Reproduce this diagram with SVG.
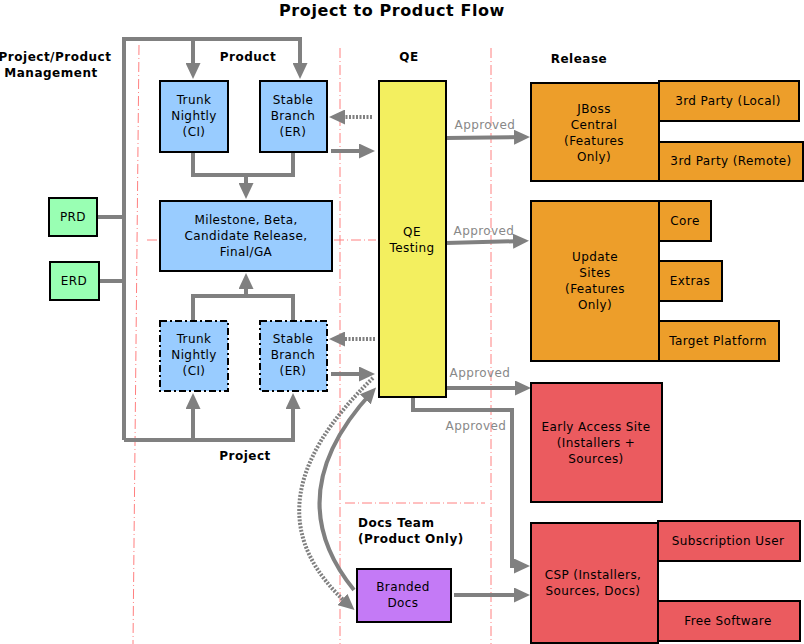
<svg xmlns="http://www.w3.org/2000/svg" width="804" height="644" viewBox="0 0 804 644">
<style>
text{font-family:"DejaVu Sans","Liberation Sans",sans-serif;font-size:12px;fill:#000;text-anchor:middle;letter-spacing:0.4px}
.h{font-weight:bold;font-size:12px;letter-spacing:0.5px}
.t{font-weight:bold;font-size:16px;letter-spacing:0.6px}
.ap{fill:#888888}
.lane{stroke:#ff8080;stroke-width:1;fill:none;stroke-dasharray:10,3,1,3}
.box{stroke:#000;stroke-width:2}
.blue{fill:#99ccff}
.green{fill:#99ffb3}
.yellow{fill:#f3ef5f}
.orange{fill:#ed9e2a}
.red{fill:#eb5b5f}
.purple{fill:#c47af6}
.dash{stroke-dasharray:7,3,2,3}
.c{stroke:#808080;stroke-width:4;fill:none}
.a{marker-end:url(#ah)}
.dot{stroke-dasharray:2,1.5}
</style>
<defs>
<marker id="ah" markerUnits="userSpaceOnUse" markerWidth="16" markerHeight="15" refX="10" refY="7.5" orient="auto">
<path d="M0,0 L16,7.5 L0,15 z" fill="#808080"/>
</marker>
</defs>
<rect width="804" height="644" fill="#fff"/>
<g id="lanes">
<line class="lane" x1="139" y1="45" x2="133" y2="644"/>
<line class="lane" x1="340" y1="48" x2="340" y2="644"/>
<line class="lane" x1="491" y1="48" x2="491" y2="644"/>
<line class="lane" x1="147" y1="240" x2="376" y2="240"/>
<line class="lane" x1="345" y1="503" x2="485" y2="503"/>
</g>
<g id="labels">
<text class="t" x="392" y="16">Project to Product Flow</text>
<text class="h" x="55" y="61">Project/Product</text>
<text class="h" x="51" y="77">Management</text>
<text class="h" x="248" y="61">Product</text>
<text class="h" x="409" y="61">QE</text>
<text class="h" x="579" y="63">Release</text>
<text class="h" x="245" y="460">Project</text>
<text class="h" x="358" y="527" style="text-anchor:start">Docs Team</text>
<text class="h" x="358" y="543" style="text-anchor:start">(Product Only)</text>
<text class="ap" x="485" y="129">Approved</text>
<text class="ap" x="484" y="235">Approved</text>
<text class="ap" x="480" y="377">Approved</text>
<text class="ap" x="476" y="430">Approved</text>
</g>
<g id="connectors">
<path class="c" d="M97,217 H124 M99,281 H124"/>
<path class="c a" d="M124,440 V39 H300 V73"/>
<path class="c a" d="M193,39 V73"/>
<path class="c a" d="M124,440 H293 V399"/>
<path class="c a" d="M193,440 V399"/>
<path class="c" d="M193,152 V175 H293 V152"/>
<path class="c a" d="M246,175 V193"/>
<path class="c" d="M193,321 V296 H293 V321"/>
<path class="c a" d="M246,296 V279"/>
<path class="c a" d="M331,151 H369"/>
<path class="c a dot" d="M372,117 H335"/>
<path class="c a dot" d="M375,339 H335"/>
<path class="c a" d="M331,374 H369"/>
<path class="c a" d="M446,138 L524,137"/>
<path class="c a" d="M446,243 L523,241"/>
<path class="c a" d="M446,388 H525"/>
<path class="c a" d="M413,397 V410 H512 V566 H524"/>
<path class="c a" d="M454,595 H524"/>
<path class="c a" d="M354,590 Q277,495 372,392"/>
<path class="c a dot" d="M373,378 Q238,508 350,606"/>
</g>
<g id="prd"><rect class="box green" x="49" y="198" width="48" height="38"/><text x="73" y="221">PRD</text></g>
<g id="erd"><rect class="box green" x="50" y="262" width="49" height="38"/><text x="74" y="285">ERD</text></g>
<g id="trunk-product"><rect class="box blue" x="160" y="81" width="68" height="71"/><text x="194" y="104">Trunk</text><text x="194" y="120">Nightly</text><text x="194" y="136">(CI)</text></g>
<g id="stable-product"><rect class="box blue" x="260" y="81" width="67" height="71"/><text x="293" y="104">Stable</text><text x="293" y="120">Branch</text><text x="293" y="136">(ER)</text></g>
<g id="milestone"><rect class="box blue" x="160" y="201" width="172" height="70"/><text x="246" y="224">Milestone, Beta,</text><text x="246" y="240">Candidate Release,</text><text x="246" y="256">Final/GA</text></g>
<g id="trunk-project"><rect class="box blue dash" x="160" y="321" width="68" height="70"/><text x="194" y="343">Trunk</text><text x="194" y="359">Nightly</text><text x="194" y="375">(CI)</text></g>
<g id="stable-project"><rect class="box blue dash" x="260" y="321" width="67" height="70"/><text x="293" y="343">Stable</text><text x="293" y="359">Branch</text><text x="293" y="375">(ER)</text></g>
<g id="qe"><rect class="box yellow" x="379" y="81" width="67" height="316"/><text x="412" y="236">QE</text><text x="412" y="252">Testing</text></g>
<g id="jboss"><rect class="box orange" x="531" y="83" width="128" height="98"/><text x="594" y="113">JBoss</text><text x="594" y="129">Central</text><text x="594" y="145">(Features</text><text x="594" y="161">Only)</text></g>
<g id="third-local"><rect class="box orange" x="659" y="81" width="140" height="40"/><text x="728" y="105">3rd Party (Local)</text></g>
<g id="third-remote"><rect class="box orange" x="659" y="142" width="144" height="39"/><text x="731" y="165">3rd Party (Remote)</text></g>
<g id="update"><rect class="box orange" x="531" y="201" width="128" height="160"/><text x="595" y="261">Update</text><text x="595" y="277">Sites</text><text x="595" y="293">(Features</text><text x="595" y="309">Only)</text></g>
<g id="core"><rect class="box orange" x="659" y="201" width="52" height="40"/><text x="685" y="225">Core</text></g>
<g id="extras"><rect class="box orange" x="659" y="261" width="63" height="40"/><text x="690" y="285">Extras</text></g>
<g id="target"><rect class="box orange" x="659" y="321" width="120" height="40"/><text x="718" y="345">Target Platform</text></g>
<g id="early"><rect class="box red" x="531" y="383" width="131" height="119"/><text x="596" y="431">Early Access Site</text><text x="596" y="447">(Installers +</text><text x="596" y="463">Sources)</text></g>
<g id="csp"><rect class="box red" x="531" y="523" width="127" height="120"/><text x="593" y="579">CSP (Installers,</text><text x="593" y="595">Sources, Docs)</text></g>
<g id="subscription"><rect class="box red" x="658" y="521" width="142" height="40"/><text x="728" y="545">Subscription User</text></g>
<g id="free"><rect class="box red" x="658" y="601" width="142" height="40"/><text x="728" y="625">Free Software</text></g>
<g id="docs"><rect class="box purple" x="357" y="569" width="94" height="53"/><text x="403" y="591">Branded</text><text x="403" y="607">Docs</text></g>
</svg>
